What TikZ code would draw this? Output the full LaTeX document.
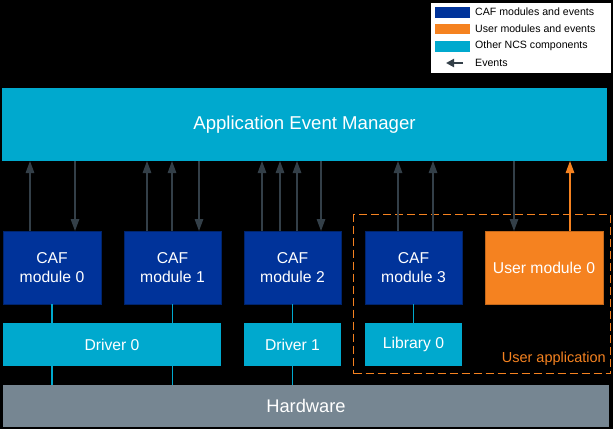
\documentclass[tikz,border=0pt]{standalone}
\usepackage{fontspec}
\setmainfont{Liberation Sans}
\usetikzlibrary{arrows.meta}
\definecolor{cafblue}{HTML}{00339A}
\definecolor{ncs}{HTML}{00A9CE}
\definecolor{usr}{HTML}{F58220}
\definecolor{hw}{HTML}{768692}
\definecolor{evt}{HTML}{333F48}
\begin{document}
\begin{tikzpicture}[x=1pt,y=-1pt,
  blk/.style={rectangle, inner sep=0pt, outer sep=0pt, anchor=north west, text=white, align=center, font=\fontsize{15.7}{19}\selectfont},
  cafbox/.style={blk, fill=cafblue, draw=cafblue!70!black, line width=0.6pt},
  ncsbox/.style={blk, fill=ncs},
  usrbox/.style={blk, fill=usr, draw=usr!80!black, line width=0.6pt},
  evup/.style={draw=evt, line width=1.3pt, -{Triangle[length=12pt,width=8.5pt]}},
  usrup/.style={draw=usr, line width=1.3pt, -{Triangle[length=12pt,width=8.5pt]}},
  link/.style={draw=ncs, line width=1.3pt},
  legtext/.style={anchor=west, inner sep=0pt, font=\fontsize{10.6}{12}\selectfont},
  swatch/.style={rectangle, inner sep=0pt, anchor=north west, minimum width=35pt, minimum height=10.5pt}
]
\fill[black] (0,0) rectangle (613,429);
\useasboundingbox (0,0) rectangle (613,429);

% legend
\node[rectangle, draw=black, fill=white, line width=0.5pt, inner sep=0pt, anchor=north west,
      minimum width=181pt, minimum height=71pt] (legend) at (430,2) {};
\node[swatch, fill=cafblue] (sw1) at (435,7) {};
\node[swatch, fill=usr] (sw2) at (435,23.5) {};
\node[swatch, fill=ncs] (sw3) at (435,41) {};
\coordinate (ev1) at (463,63);
\coordinate (ev2) at (446,63);
\draw[draw=evt, line width=2.4pt, -{Triangle[length=8pt,width=8pt]}] (ev1) -- (ev2);
\node[legtext] (lt1) at (475,12) {CAF modules and events};
\node[legtext] (lt2) at (475,28.5) {User modules and events};
\node[legtext] (lt3) at (475,46) {Other NCS components};
\node[legtext] (lt4) at (475,63) {Events};

% Application Event Manager
\node[ncsbox, minimum width=605pt, minimum height=73pt, font=\fontsize{18.6}{21}\selectfont] (aem) at (2,88) {Application Event Manager};

% user application container
\node[rectangle, draw=usr, dash pattern=on 8pt off 4pt, line width=1.3pt, inner sep=0pt, anchor=north west,
      minimum width=257pt, minimum height=159pt] (uapp) at (353,214) {};
\node[anchor=east, inner sep=0pt, text=usr, font=\fontsize{14.5}{16}\selectfont] (uapplbl) at (606,359) {User application};

% modules
\node[cafbox, minimum width=98pt, minimum height=73pt] (caf0) at (3,231) {CAF\\module 0};
\node[cafbox, minimum width=97pt, minimum height=73pt] (caf1) at (124,231) {CAF\\module 1};
\node[cafbox, minimum width=97pt, minimum height=73pt] (caf2) at (244,231) {CAF\\module 2};
\node[cafbox, minimum width=97pt, minimum height=73pt] (caf3) at (365,231) {CAF\\module 3};
\node[usrbox, minimum width=118pt, minimum height=73pt] (um0) at (485,231) {User module 0};

% drivers / library
\node[ncsbox, minimum width=218pt, minimum height=43pt] (drv0) at (3,323) {Driver 0};
\node[ncsbox, minimum width=97pt, minimum height=43pt] (drv1) at (244,323) {Driver 1};
\node[ncsbox, minimum width=97pt, minimum height=43pt] (lib0) at (365,323) {Library 0};

% hardware
\node[blk, fill=hw, minimum width=606pt, minimum height=42pt, font=\fontsize{18.3}{21}\selectfont] (hwb) at (3,385) {Hardware};

% event arrow x positions
\foreach \x in {30,75,147,172,199,262,280,297,321,398,433,514,570} {\coordinate (x\x) at (\x,0);}

% up arrows
\draw[evup] (caf0.north -| x30) -- (aem.south -| x30);
\draw[evup] (caf1.north -| x147) -- (aem.south -| x147);
\draw[evup] (caf1.north -| x172) -- (aem.south -| x172);
\draw[evup] (caf2.north -| x262) -- (aem.south -| x262);
\draw[evup] (caf2.north -| x280) -- (aem.south -| x280);
\draw[evup] (caf2.north -| x297) -- (aem.south -| x297);
\draw[evup] (caf3.north -| x398) -- (aem.south -| x398);
\draw[evup] (caf3.north -| x433) -- (aem.south -| x433);
\draw[usrup] (um0.north -| x570) -- (aem.south -| x570);
% down arrows
\draw[evup] (aem.south -| x75) -- (caf0.north -| x75);
\draw[evup] (aem.south -| x199) -- (caf1.north -| x199);
\draw[evup] (aem.south -| x321) -- (caf2.north -| x321);
\draw[evup] (aem.south -| x514) -- (um0.north -| x514);

% links
\draw[link] (caf0.south) -- (caf0.south |- drv0.north);
\draw[link] (caf1.south) -- (caf1.south |- drv0.north);
\draw[link] (caf2.south) -- (drv1.north);
\draw[link] (caf3.south) -- (lib0.north);
\draw[link] (caf0.south |- drv0.south) -- (caf0.south |- hwb.north);
\draw[link] (caf1.south |- drv0.south) -- (caf1.south |- hwb.north);
\draw[link] (drv1.south) -- (drv1.south |- hwb.north);
\end{tikzpicture}
\end{document}
